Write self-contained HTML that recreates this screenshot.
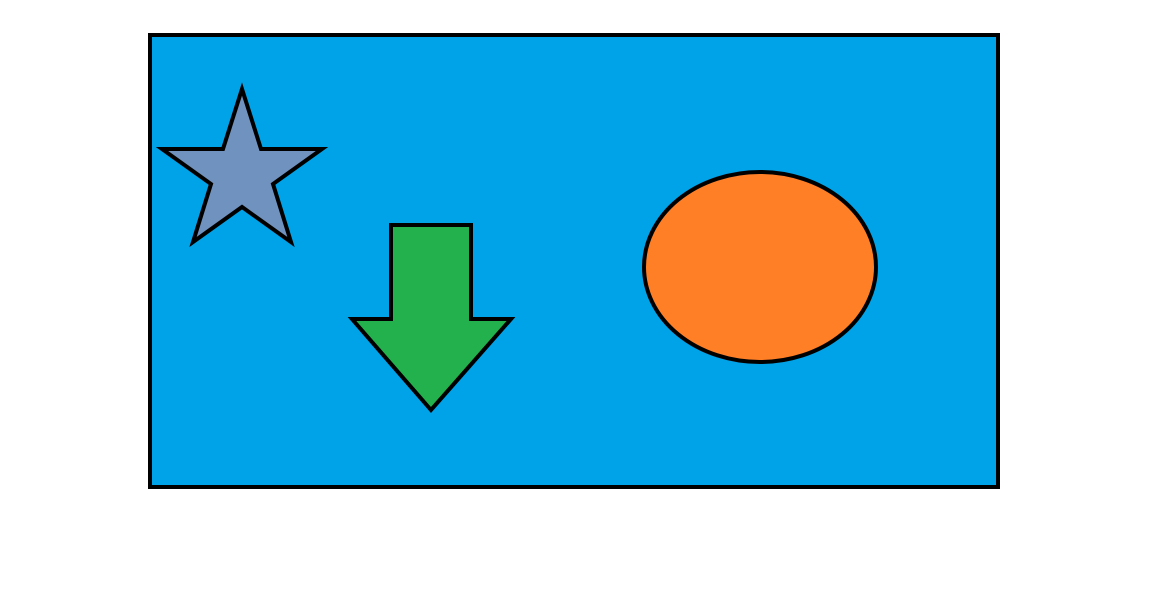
<!DOCTYPE html>
<html>
<head>
<meta charset="utf-8">
<style>
html,body{margin:0;padding:0;background:#fff;}
svg{display:block;}
</style>
</head>
<body>
<svg width="1156" height="592" viewBox="0 0 1156 592">
  <rect x="150" y="35" width="848" height="452" fill="#00a2e8" stroke="#000" stroke-width="4"/>
  <polygon points="242,89 261,149 322,149 273,184 291,242 242,207 193,242 211,184 162,149 223,149" fill="#7092be" stroke="#000" stroke-width="4" stroke-linejoin="miter"/>
  <polygon points="391,225 471,225 471,319 511,319 431,410 352,319 391,319" fill="#22b14c" stroke="#000" stroke-width="4"/>
  <ellipse cx="760" cy="267" rx="116" ry="95" fill="#ff7f27" stroke="#000" stroke-width="4"/>
</svg>
</body>
</html>
